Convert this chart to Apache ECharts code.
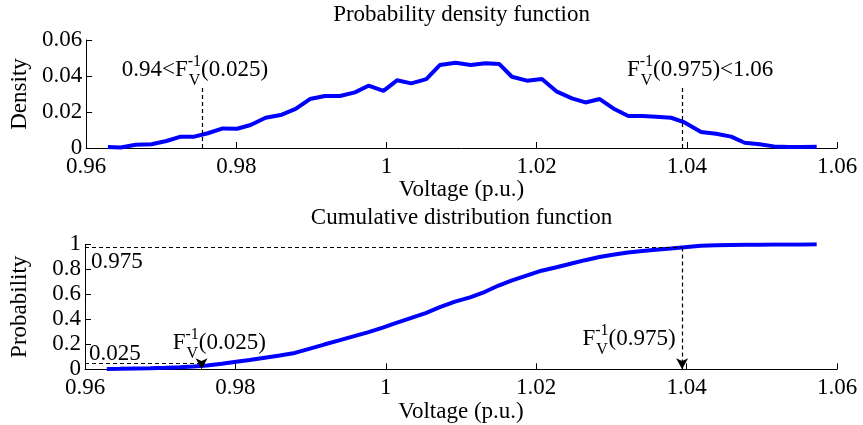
<!DOCTYPE html>
<html>
<head>
<meta charset="utf-8">
<script src="https://cdn.jsdelivr.net/npm/echarts@6/dist/echarts.min.js"></script>
<style>
html, body { margin: 0; padding: 0; background: #fff; }
#chart { width: 863px; height: 425px; }
</style>
</head>
<body>
<div id="chart"></div>
<script>
// voltage bins (p.u.)
const voltage = [0.9629, 0.9646, 0.9666, 0.9687, 0.9707, 0.9726, 0.9744, 0.9762, 0.9782, 0.9801,
    0.9819, 0.9839, 0.9859, 0.9879, 0.9898, 0.9918, 0.9938, 0.9958, 0.9976, 0.9996,
    1.0014, 1.0033, 1.0053, 1.0071, 1.0092, 1.0112, 1.0132, 1.0150, 1.0167, 1.0187,
    1.0207, 1.0227, 1.0247, 1.0265, 1.0284, 1.0304, 1.0322, 1.0341, 1.0359, 1.0379,
    1.0397, 1.0419, 1.0439, 1.0459, 1.0477, 1.0497, 1.0516, 1.0536, 1.0553, 1.0573]
// probability density
const density = [0.0006, 0.0003, 0.0018, 0.0021, 0.0039, 0.0063, 0.0063, 0.0082, 0.0109, 0.0107,
    0.0128, 0.0168, 0.0183, 0.0217, 0.0272, 0.0289, 0.0289, 0.0309, 0.0346, 0.0317,
    0.0376, 0.0359, 0.0383, 0.0461, 0.0474, 0.0461, 0.0471, 0.0467, 0.0396, 0.0374,
    0.0383, 0.0313, 0.0276, 0.0253, 0.0272, 0.0215, 0.0178, 0.0178, 0.0174, 0.0168,
    0.0142, 0.0089, 0.0079, 0.0063, 0.0029, 0.0021, 0.0009, 0.0006, 0.0006, 0.0007]
// cumulative distribution
const cdf = [0.003, 0.004, 0.006, 0.008, 0.012, 0.017, 0.023, 0.031, 0.045, 0.060,
    0.074, 0.092, 0.110, 0.131, 0.164, 0.198, 0.231, 0.265, 0.295, 0.334,
    0.372, 0.409, 0.450, 0.495, 0.542, 0.576, 0.620, 0.670, 0.710, 0.750,
    0.789, 0.816, 0.846, 0.873, 0.898, 0.919, 0.935, 0.947, 0.956, 0.966,
    0.976, 0.988, 0.993, 0.995, 0.996, 0.997, 0.998, 0.999, 0.999, 1.000]

const xTicks = [0.96, 0.98, 1, 1.02, 1.04, 1.06]
const pdfTicks = [0, 0.02, 0.04, 0.06]
const cdfTicks = [0, 0.2, 0.4, 0.6, 0.8, 1]

// quantiles
const qLow = 0.9755
const qHigh = 1.0394
const lowLevel = 0.045   // where the 0.025 guide is drawn
const highLevel = 0.975

const FONT = '"Liberation Serif", "Times New Roman", serif'
const FS = 23
const SUB_FS = 16

const chart = echarts.init(document.getElementById('chart'))

const xAxisCfg = (gridIndex) => ({
    type: 'value',
    gridIndex: gridIndex,
    min: xTicks[0],
    max: xTicks[xTicks.length - 1],
    interval: 0.02,
    name: 'Voltage (p.u.)',
    nameLocation: 'middle',
    nameGap: 25,
    nameTextStyle: { fontFamily: FONT, fontSize: FS, color: '#000' },
    axisLine: { show: true, lineStyle: { color: '#000', width: 1 } },
    axisTick: { show: true, inside: true, length: 6, lineStyle: { color: '#000' } },
    axisLabel: { color: '#000', fontFamily: FONT, fontSize: FS, margin: 7 },
    splitLine: { show: false }
})

const yAxisCfg = (gridIndex, ticks, name) => ({
    type: 'value',
    gridIndex: gridIndex,
    min: ticks[0],
    max: ticks[ticks.length - 1],
    interval: ticks[1] - ticks[0],
    name: name,
    nameLocation: 'middle',
    nameGap: 54,
    nameTextStyle: { fontFamily: FONT, fontSize: FS, color: '#000' },
    axisLine: { show: true, lineStyle: { color: '#000', width: 1 } },
    axisTick: { show: true, inside: true, length: 6, lineStyle: { color: '#000' } },
    axisLabel: { color: '#000', fontFamily: FONT, fontSize: FS, margin: 4 },
    splitLine: { show: false }
})

const dashed = { type: [4, 3], color: '#000', width: 1.2 }

const option = {
    backgroundColor: '#fff',
    animation: false,
    grid: [
        { left: 81, width: 756, top: 40, height: 108 },
        { left: 81, width: 756, top: 244.3, height: 125 }
    ],
    xAxis: [xAxisCfg(0), xAxisCfg(1)],
    yAxis: [yAxisCfg(0, pdfTicks, 'Density'), yAxisCfg(1, cdfTicks, 'Probability')],
    series: [
        {
            type: 'line',
            xAxisIndex: 0,
            yAxisIndex: 0,
            data: voltage.map((v, i) => [v, density[i]]),
            showSymbol: false,
            lineStyle: { color: '#0000ff', width: 4 },
            itemStyle: { color: '#0000ff' },
            markLine: {
                silent: true,
                symbol: ['none', 'none'],
                label: { show: false },
                lineStyle: dashed,
                data: [
                    [{ coord: [qLow, 0] }, { coord: [qLow, 0.034] }],
                    [{ coord: [qHigh, 0] }, { coord: [qHigh, 0.034] }]
                ]
            }
        },
        {
            type: 'line',
            xAxisIndex: 1,
            yAxisIndex: 1,
            data: voltage.map((v, i) => [v, cdf[i]]),
            showSymbol: false,
            lineStyle: { color: '#0000ff', width: 4 },
            itemStyle: { color: '#0000ff' },
            markLine: {
                silent: true,
                symbol: ['none', 'none'],
                label: { show: false },
                lineStyle: dashed,
                data: [
                    [{ coord: [xTicks[0], highLevel] }, { coord: [qHigh, highLevel] }],
                    [{ coord: [xTicks[0], lowLevel] }, { coord: [qLow, lowLevel] }]
                ]
            }
        },
        {
            // guide arrows down to the axis
            type: 'line',
            xAxisIndex: 1,
            yAxisIndex: 1,
            data: [],
            markLine: {
                silent: true,
                symbol: ['none', 'arrow'],
                symbolSize: [9, 11],
                label: { show: false },
                lineStyle: dashed,
                itemStyle: { color: '#000' },
                data: [
                    [{ coord: [qHigh, highLevel] }, { coord: [qHigh, 0] }],
                    [{ coord: [qLow, lowLevel] }, { coord: [qLow, 0] }]
                ]
            }
        }
    ]
}

chart.setOption(option)

// text annotations
const ctx = document.createElement('canvas').getContext('2d')
const measure = (s, fs) => {
    ctx.font = fs + 'px ' + FONT
    return ctx.measureText(s).width
}
const txt = (x, y, s, fs) => ({
    type: 'text',
    x: x,
    y: y,
    silent: true,
    style: { text: s, fontFamily: FONT, fontSize: fs, fill: '#000', align: 'left', verticalAlign: 'middle' }
})
// F_V^{-1}(...) label centred on pt
const fLabel = (pt, pre, post) => {
    const wPre = measure(pre, FS)
    const wMid = Math.max(measure('-1', SUB_FS), measure('V', SUB_FS))
    const wPost = measure(post, FS)
    const x0 = pt[0] - (wPre + wMid + wPost) / 2
    const y = pt[1]
    return [
        txt(x0, y, pre, FS),
        txt(x0 + wPre, y - 8, '-1', SUB_FS),
        txt(x0 + wPre + 1, y + 11, 'V', SUB_FS),
        txt(x0 + wPre + wMid, y, post, FS)
    ]
}
const px0 = (p) => chart.convertToPixel({ gridIndex: 0 }, p)
const px1 = (p) => chart.convertToPixel({ gridIndex: 1 }, p)

const titleX = px0([1.01, 0])[0]
const graphic = [
    { type: 'text', x: titleX, y: 14.5, silent: true,
      style: { text: 'Probability density function', fontFamily: FONT, fontSize: FS, fill: '#000', align: 'center', verticalAlign: 'middle' } },
    { type: 'text', x: titleX, y: 218, silent: true,
      style: { text: 'Cumulative distribution function', fontFamily: FONT, fontSize: FS, fill: '#000', align: 'center', verticalAlign: 'middle' } }
]
    .concat(fLabel(px0([0.97448, 0.0433]), '0.94<F', '(0.025)'))
    .concat(fLabel(px0([1.04177, 0.0436]), 'F', '(0.975)<1.06'))
    .concat(fLabel(px1([0.97786, 0.210]), 'F', '(0.025)'))
    .concat(fLabel(px1([1.03235, 0.242]), 'F', '(0.975)'))

const p975 = px1([0.9608, 0.858])
const p025 = px1([0.96053, 0.122])
graphic.push(txt(p975[0], p975[1], '0.975', FS))
graphic.push(txt(p025[0], p025[1], '0.025', FS))

chart.setOption({ graphic: graphic })
</script>
</body>
</html>
